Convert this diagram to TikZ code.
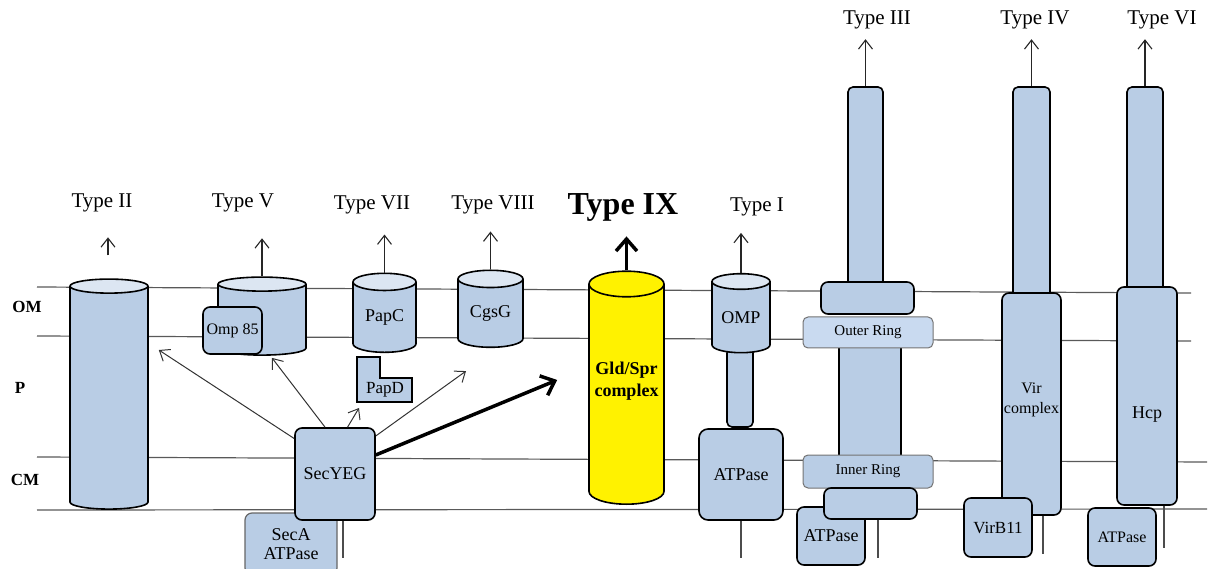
\documentclass[tikz,border=0pt]{standalone}
\usepackage{fontspec}
\setmainfont{Liberation Serif}
\usetikzlibrary{arrows.meta}
\usetikzlibrary{shapes,shapes.geometric}
\definecolor{protblue}{HTML}{B9CDE5}
\definecolor{capblue}{HTML}{DCE6F2}
\definecolor{ringblue}{HTML}{C9DAF0}
\definecolor{memgray}{HTML}{595959}
\tikzset{>=stealth}
\tikzset{
  barrel/.style={cylinder, shape border rotate=90, draw=black, line width=1.6pt,
    cylinder uses custom fill, cylinder body fill=protblue, cylinder end fill=capblue,
    inner sep=0pt, align=center, font=\fontsize{18}{20}\selectfont},
  box/.style={draw=black, line width=1.6pt, fill=protblue, rounded corners=7pt,
    inner sep=0pt, align=center, font=\fontsize{18}{19}\selectfont},
  ring/.style={draw=black!55, line width=1pt, fill=ringblue, rounded corners=5pt,
    inner sep=0pt, font=\fontsize{15}{16}\selectfont},
  typelab/.style={inner sep=0pt, font=\fontsize{21}{24}\selectfont},
  side/.style={inner sep=0pt, font=\bfseries\fontsize{17}{20}\selectfont},
  membrane/.style={memgray, line width=1.2pt},
  up/.style={-{Straight Barb[length=9pt,width=14pt]}, line width=1.1pt, black!85},
  feed/.style={-{Straight Barb[length=9pt,width=14pt]}, line width=1pt, black!80},
  bigfeed/.style={-{Straight Barb[length=12pt,width=21pt]}, line width=3.5pt},
  tail/.style={black!70, line width=1.2pt},
}

\begin{document}
\begin{tikzpicture}[x=1pt,y=-1pt]
      \useasboundingbox (0,0) rectangle (1211,569);
      % membranes
      \draw[membrane] (37,287) -- (1191,293);
      \draw[membrane] (37,336) -- (1191,341);
      \draw[membrane] (37,457) -- (1207,462);
      \draw[membrane] (37,510) -- (1207,509);
      \node[side] (om) at (27,307) {OM};
      \node[side] (peri) at (20,388) {P};
      \node[side] (cm) at (25,480) {CM};

      % Type II, V, VII, VIII
      \node[barrel, aspect=0.36, minimum width=78, minimum height=230] (t2) at (109,398) {\phantom{PapC}};
      \node[barrel, aspect=0.36, minimum width=88, minimum height=78] (t5) at (262,320) {\phantom{PapC}};
      \node[box, minimum width=59, minimum height=47, font=\fontsize{16}{18}\selectfont] (omp85) at (232.5,330.5) {Omp 85};
      \node[barrel, aspect=0.44, minimum width=63, minimum height=79] (papc) at (384.5,317.5) {PapC};
      \draw[line width=1.6pt, fill=protblue] (357,357) -- (380,357) -- (380,378) -- (412,378) -- (412,402) -- (357,402) -- cycle;
      \node[inner sep=0pt, font=\fontsize{17}{18}\selectfont] (papd) at (385,390) {PapD};
      \node[barrel, aspect=0.42, minimum width=65, minimum height=77] (cgsg) at (490.5,313.5) {CgsG};

      % Type IX
      \node[barrel, aspect=0.4, minimum width=75, minimum height=233, cylinder body fill=yellow, cylinder end fill=yellow,
        font=\bfseries\fontsize{18}{22}\selectfont] (gld) at (626.5,394.5) {Gld/Spr\\complex\\[8pt]};

      % Sec machinery
      \node[box, draw=black!60, line width=1.2pt, minimum width=92, minimum height=62] (seca) at (291,544) {SecA\\ATPase};
      \node[box, minimum width=80, minimum height=92] (sec) at (335,474) {SecYEG};

      % Type I
      \node[box, rounded corners=5pt, minimum width=26, minimum height=79] (stalk) at (740,387.5) {};
      \node[barrel, aspect=0.4, minimum width=58, minimum height=79] (omp) at (741,317.5) {OMP};
      \node[box, rounded corners=9pt, minimum width=84, minimum height=91] (at1) at (741,474.5) {ATPase};

      % Type III
      \node[box, rounded corners=5pt, minimum width=35, minimum height=202] (rod3) at (865.5,188) {};
      \node[box, rounded corners=0pt, minimum width=62, minimum height=113] (shaft) at (870,401.5) {};
      \node[box, minimum width=93, minimum height=32] (top3) at (867.5,298) {};
      \node[ring, minimum width=130, minimum height=31] (outer) at (868,332.5) {Outer Ring};
      \node[ring, fill=protblue, minimum width=130, minimum height=33] (inner) at (868,471.5) {Inner Ring};
      \node[box, minimum width=68, minimum height=58] (at3) at (831,536) {ATPase};
      \node[box, minimum width=93, minimum height=31] (low3) at (870.5,503.5) {};

      % Type IV
      \node[box, rounded corners=5pt, minimum width=37, minimum height=213] (rod4) at (1031.5,193.5) {};
      \node[box, minimum width=59, minimum height=222, font=\fontsize{16}{20}\selectfont] (vir) at (1031.5,404) {Vir\\complex\\[-8pt]};
      \node[box, minimum width=68, minimum height=59, font=\fontsize{17}{18}\selectfont] (virb) at (998,527.5) {VirB11};

      % Type VI
      \node[box, rounded corners=5pt, minimum width=36, minimum height=208] (rod6) at (1145,191) {};
      \node[box, minimum width=60, minimum height=218] (hcp) at (1147,396) {\raisebox{-22pt}[0pt][0pt]{Hcp}};
      \node[box, minimum width=68, minimum height=58, font=\fontsize{16}{18}\selectfont] (at6) at (1122,537) {ATPase};

      % secretion labels
      \node[typelab] (l2) at (102,203) {Type II};
      \node[typelab] (l5) at (243,203) {Type V};
      \node[typelab] (l7) at (372,205) {Type VII};
      \node[typelab] (l8) at (493,205) {Type VIII};
      \node[inner sep=0pt, font=\bfseries\fontsize{32}{34}\selectfont] (l9) at (623,207) {Type IX};
      \node[typelab] (l1) at (757,207) {Type I};
      \node[typelab] (l3) at (877,20) {Type III};
      \node[typelab] (l4) at (1035,20) {Type IV};
      \node[typelab] (l6) at (1162,20) {Type VI};

      \draw[up] ([xshift=-1]t2.north) ++(0,-23) -- ++(0,-18);
      \draw[up] (t5.north) -- ++(0,-38);
      \draw[up] (papc.north) -- ++(0,-38);
      \draw[up] (cgsg.north) -- ++(0,-38);
      \draw[bigfeed] (gld.north) -- ++(0,-34);
      \draw[up] (omp.north) -- ++(0,-40);
      \draw[up] (rod3.north) -- ++(0,-47);
      \draw[up] (rod4.north) -- ++(0,-47);
      \draw[up] (rod6.north) -- ++(0,-47);

      \draw[feed] (sec.139) -- ([shift={(10,-48)}]t2.east);
      \draw[feed] (sec.102) -- ([shift={(10,2)}]t5.south);
      \draw[feed] (sec.75) -- ([shift={(-26,18)}]papd.center);
      \draw[feed] (sec.43) -- ([shift={(-24.5,23)}]cgsg.south);
      \draw[bigfeed] (sec.25) -- ([shift={(-31,-14.5)}]gld.west);

      \draw[tail] ([xshift=8]sec.south) -- ++(0,37);
      \draw[tail] (at1.south) -- ++(0,37);
      \draw[tail] ([xshift=7.5]low3.south) -- ++(0,38);
      \draw[tail] ([xshift=11.5]vir.south) -- ++(0,38);
      \draw[tail] ([xshift=17]hcp.south) -- ++(0,42);
\end{tikzpicture}
\end{document}
